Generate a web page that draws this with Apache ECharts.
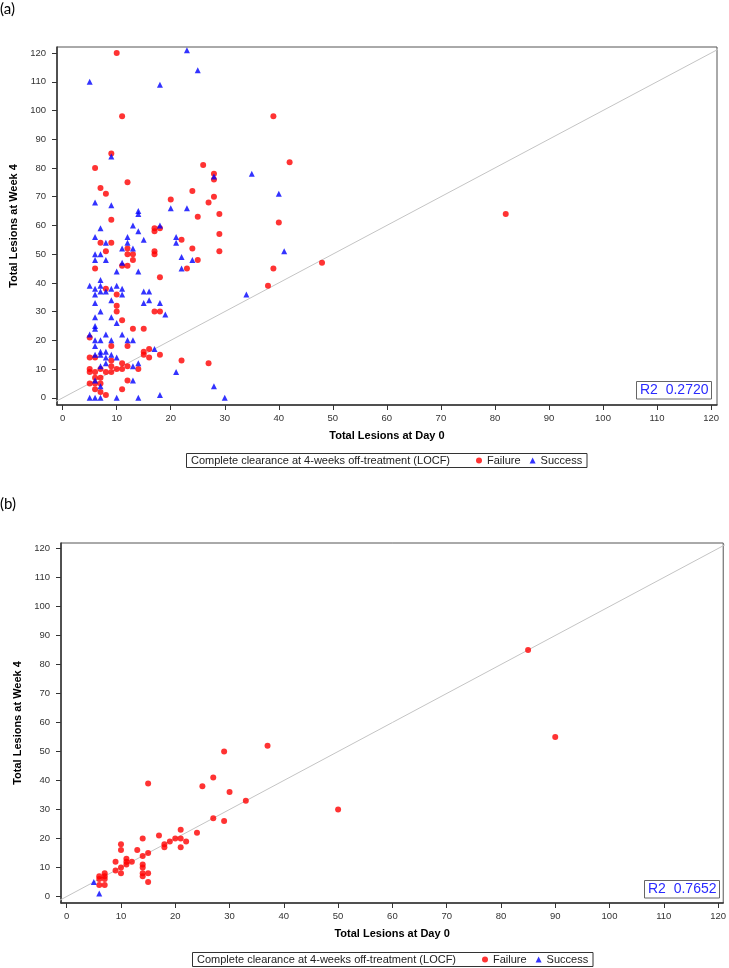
<!DOCTYPE html>
<html>
<head>
<meta charset="utf-8">
<script src="https://cdn.jsdelivr.net/npm/echarts@6/dist/echarts.min.js"></script>
<style>
html,body{margin:0;padding:0;background:#fff;}
#chart{width:729px;height:968px;}
</style>
</head>
<body>
<div id="chart"></div>
<script>
// ---------- data ----------
const tickValues = [0,10,20,30,40,50,60,70,80,90,100,110,120];
const legendTitle = 'Complete clearance at 4-weeks off-treatment (LOCF)';
const xTitle = 'Total Lesions at Day 0';
const yTitle = 'Total Lesions at Week 4';
const r2A = 'R2  0.2720';
const r2B = 'R2  0.7652';
const identityLine = [[-5,-5],[130,130]];

// Panel (a): [Day 0, Week 4]
const failureA = [
 [10,120],[11,98],[9,85],[6,80],[12,75],[7,73],[8,71],[20,69],[9,62],
 [39,98],[42,82],[26,81],[28,78],[28,76],[24,72],[28,70],[27,68],[25,63],[29,64],
 [17,59],[17,58],[18,59],[7,54],[9,54],[12,52],[12,50],[13,50],[13,48],[8,51],[11,46],[12,46],[6,45],[17,51],[17,50],[18,42],
 [8,38],[10,36],[10,32],[10,30],[11,27],[13,24],[15,24],[17,30],[18,30],[5,21],[12,18],[9,18],
 [5,14],[6,14],[9,13],[11,12],[12,11],[15,16],[15,15],[16,17],[16,14],[18,15],[14,10],[9,11],[10,10],[11,10],
 [5,10],[5,9],[6,9],[7,10],[8,9],[9,9],[6,7],[7,7],[6,5],[5,5],[7,5],[6,3],[7,2],[8,1],[11,3],[12,6],
 [40,61],[22,55],[29,57],[24,52],[29,51],[25,48],[23,45],[39,45],[48,47],[38,39],[22,13],[27,12],[82,64]
];
const successA = [
 [5,110],[18,109],[9,84],[6,68],[9,67],[14,65],[14,64],[20,66],[23,121],[25,114],[28,77],[35,78],[40,71],[23,66],
 [7,59],[13,60],[14,58],[18,60],[6,56],[8,54],[12,56],[12,54],[13,52],[15,55],[6,50],[7,50],[6,48],[8,48],[11,52],[11,47],[10,44],[14,44],[21,56],[21,54],
 [5,39],[6,38],[7,39],[7,37],[8,37],[9,38],[10,39],[11,38],[7,41],[6,36],[11,36],[15,37],[16,37],[15,33],[16,34],[6,33],[9,34],[7,30],[6,28],[9,28],[6,25],[6,24],[10,26],[18,33],[19,29],
 [5,22],[6,20],[7,20],[8,22],[9,20],[11,22],[12,20],[13,20],[6,18],[7,16],[6,15],[7,15],[8,16],[8,14],[9,15],[10,14],[17,17],[21,9],[14,12],[13,11],[8,12],[7,11],[6,6],[7,4],[13,6],
 [5,0],[6,0],[7,0],[10,0],[14,0],[18,1],
 [41,51],[22,49],[24,48],[22,45],[34,36],[28,4],[30,0]
];

// Panel (b)
const failureB = [
 [15,39],[25,38],[30,36],[27,41],[33,33],[27,27],[29,26],[24,22],[21,23],[17,21],[14,20],[20,20],[21,20],[22,19],[19,19],
 [18,18],[18,17],[21,17],[10,18],[10,16],[13,16],[15,15],[14,14],[9,12],[11,13],[11,12],[12,12],[11,11],[10,10],[9,9],
 [14,11],[14,10],[14,8],[14,7],[10,8],[15,8],[15,5],[7,8],[7,7],[6,7],[6,6],[7,6],[6,4],[7,4],
 [85,85],[90,55],[50,30],[37,52],[29,50]
];
const successB = [[5,5],[6,1]];

// ---------- chart ----------
const FONT = '"Liberation Sans", Arial, sans-serif';
const chart = echarts.init(document.getElementById('chart'), null, {renderer:'canvas'});

function xAx(gridIndex, min, max){
  return {
    type:'value', gridIndex, min, max,
    name:xTitle, nameLocation:'middle', nameGap:25,
    nameTextStyle:{fontFamily:FONT, fontSize:11, fontWeight:'bold', color:'#000'},
    axisLine:{show:true, onZero:false, lineStyle:{color:'#333', width:1.5}},
    axisTick:{show:true, inside:false, length:5, customValues:tickValues, lineStyle:{color:'#333', width:1}},
    axisLabel:{customValues:tickValues, margin:8, fontFamily:FONT, fontSize:9.5, color:'#333'},
    splitLine:{show:false}
  };
}
function yAx(gridIndex, min, max){
  return {
    type:'value', gridIndex, min, max,
    name:yTitle, nameLocation:'middle', nameGap:35,
    nameTextStyle:{fontFamily:FONT, fontSize:11, fontWeight:'bold', color:'#000'},
    axisLine:{show:true, onZero:false, lineStyle:{color:'#333', width:1.5}},
    axisTick:{show:true, inside:false, length:5, customValues:tickValues, lineStyle:{color:'#333', width:1}},
    axisLabel:{customValues:tickValues, margin:11, fontFamily:FONT, fontSize:9.5, color:'#333'},
    splitLine:{show:false}
  };
}

function scatter(name, data, xi, symbol, color){
  return {
    type:'scatter', name, data, xAxisIndex:xi, yAxisIndex:xi,
    symbol, symbolSize:6, itemStyle:{color}, z:3, silent:true
  };
}
function diag(xi){
  return {
    type:'line', data:identityLine, xAxisIndex:xi, yAxisIndex:xi,
    showSymbol:false, symbol:'none', clip:true, silent:true,
    lineStyle:{color:'#c4c4c4', width:1}, z:1
  };
}

const legendText = {fontFamily:FONT, fontSize:11, color:'#222'};

chart.setOption({
  animation:false,
  backgroundColor:'#fff',
  grid:[
    {left:57, top:47, width:660, height:358, show:true, borderColor:'#555', borderWidth:1},
    {left:61, top:543, width:664, height:360, show:true, borderColor:'#555', borderWidth:1}
  ],
  xAxis:[xAx(0,-1.05,121.1), xAx(1,-1.05,120.95)],
  yAxis:[yAx(0,-2.5,122.1), yAx(1,-2.24,121.9)],
  legend:[
    {data:['Failure','Success'], left:476, top:455, padding:0, itemWidth:6, itemHeight:6, itemGap:9,
     textStyle:legendText, selectedMode:false},
    {data:['Failure','Success'], left:482, top:954, padding:0, itemWidth:6, itemHeight:6, itemGap:9,
     textStyle:legendText, selectedMode:false}
  ],
  graphic:[
    {type:'text', left:0, top:2, style:{text:'(a)', font:'15px Lato, "Open Sans", sans-serif', fill:'#000'}},
    {type:'text', left:0, top:497, style:{text:'(b)', font:'15px Lato, "Open Sans", sans-serif', fill:'#000'}},
    {type:'rect', shape:{x:186.5, y:453.5, width:400.5, height:14}, style:{fill:'none', stroke:'#333', lineWidth:1}},
    {type:'text', x:191, y:460.5, style:{text:legendTitle, font:'11px '+FONT, fill:'#222', textVerticalAlign:'middle', verticalAlign:'middle'}},
    {type:'rect', shape:{x:192.5, y:952.5, width:400.5, height:14}, style:{fill:'none', stroke:'#333', lineWidth:1}},
    {type:'text', x:197, y:959.5, style:{text:legendTitle, font:'11px '+FONT, fill:'#222', textVerticalAlign:'middle', verticalAlign:'middle'}},
    {type:'rect', shape:{x:636.5, y:381.5, width:75, height:17.5}, style:{fill:'#fff', stroke:'#666', lineWidth:1}, z:10},
    {type:'text', x:640, y:390.5, z:11, style:{text:r2A, font:'14px '+FONT, fill:'#2a2aff', textVerticalAlign:'middle', verticalAlign:'middle'}},
    {type:'rect', shape:{x:644.5, y:880.5, width:75, height:17.5}, style:{fill:'#fff', stroke:'#666', lineWidth:1}, z:10},
    {type:'text', x:648, y:889.5, z:11, style:{text:r2B, font:'14px '+FONT, fill:'#2a2aff', textVerticalAlign:'middle', verticalAlign:'middle'}}
  ],
  series:[
    diag(0),
    scatter('Failure', failureA, 0, 'circle', '#ff0000'),
    scatter('Success', successA, 0, 'triangle', '#0000ff'),
    diag(1),
    scatter('Failure', failureB, 1, 'circle', '#ff0000'),
    scatter('Success', successB, 1, 'triangle', '#0000ff')
  ]
});
</script>
</body>
</html>
